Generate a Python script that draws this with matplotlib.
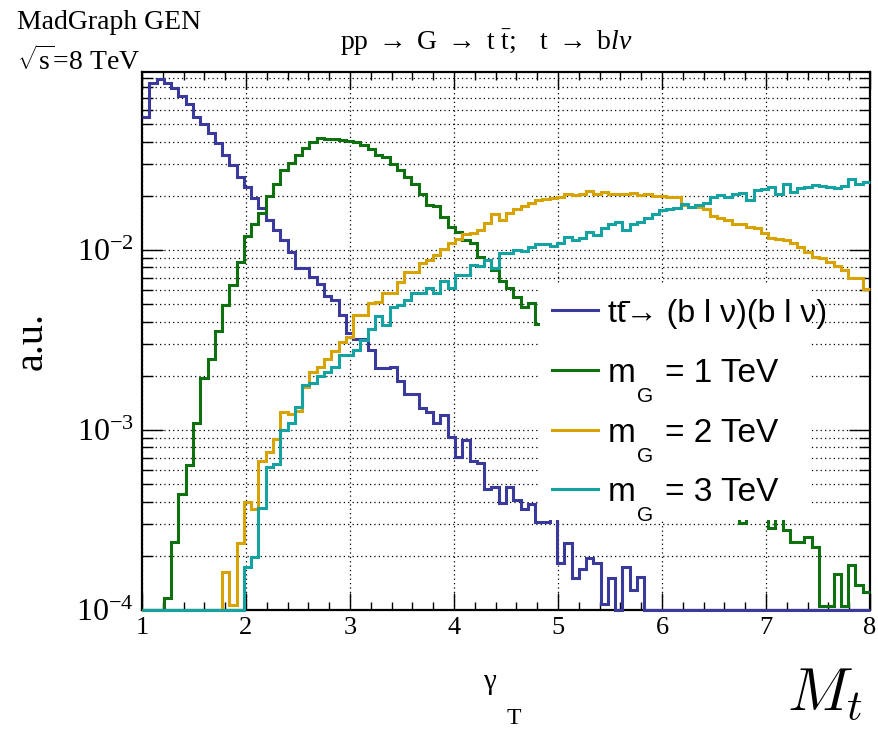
import numpy as np
import matplotlib.pyplot as plt
from matplotlib.patches import Rectangle
from matplotlib.lines import Line2D
from matplotlib.ticker import LogLocator, MultipleLocator, FuncFormatter, NullFormatter

plt.rcParams['font.family'] = ['Liberation Serif', 'DejaVu Serif']
plt.rcParams['mathtext.fontset'] = 'custom'
plt.rcParams['mathtext.rm'] = 'Liberation Serif'
plt.rcParams['mathtext.it'] = 'Liberation Serif:italic'

# 100 bins between 1 and 8 (gamma_T), normalised histograms (a.u.)
bin_lo, bin_hi, n_bins = 1.0, 8.0, 100

ttbar = [0.055, 0.085, 0.089, 0.085, 0.079, 0.0718, 0.0647, 0.055, 0.050, 0.0449,
         0.0395, 0.0337, 0.0297, 0.0253, 0.0223, 0.0194, 0.0171, 0.0147, 0.0129, 0.0114,
         0.0098, 0.0079, 0.0079, 0.0071, 0.00647, 0.00555, 0.0053, 0.00435, 0.00344, 0.00319,
         0.00319, 0.00278, 0.0022, 0.0022, 0.00225, 0.00186, 0.00158, 0.00158, 0.00132, 0.00126,
         0.00109, 0.00121, 0.00092, 0.00071, 0.00088, 0.000676, 0.000653, 0.000468, 0.000484, 0.000394,
         0.000484, 0.000408, 0.000363, 0.000388, 0.000309, 0.000309, 0.00036, 0.000182, 0.000237, 0.00015,
         0.00017, 0.000194, 0.000182, 0.000108, 0.00015, 0, 0.000174, 0.000129, 0.000152, 0,
         0, 0, 0, 0, 0, 0, 0, 0, 0, 0,
         0, 0, 0, 0, 0, 0, 0, 0, 0, 0,
         0, 0, 0, 0, 0, 0, 0, 0, 0, 0]

mG_1TeV = [0, 0, 0, 0.000116, 0.00024, 0.00044, 0.00064, 0.0011, 0.00194, 0.00247,
           0.00355, 0.00495, 0.0064, 0.0086, 0.012, 0.0139, 0.0161, 0.020, 0.0234, 0.0278,
           0.0305, 0.0337, 0.0367, 0.040, 0.042, 0.0413, 0.0413, 0.041, 0.0405, 0.040,
           0.0383, 0.0362, 0.0337, 0.0327, 0.0301, 0.0278, 0.0253, 0.0234, 0.0206, 0.0178,
           0.0175, 0.0153, 0.0135, 0.0126, 0.0113, 0.0109, 0.0092, 0.0088, 0.00774, 0.00676,
           0.00613, 0.0055, 0.00484, 0.00506, 0.0039, 0.0037, 0.0034, 0.0030, 0.0028, 0.0025,
           0.0022, 0.0020, 0.0018, 0.0016, 0.0015, 0.0013, 0.0012, 0.0011, 0.00098, 0.00088,
           0.0008, 0.00072, 0.00066, 0.0006, 0.00055, 0.0005, 0.00046, 0.00042, 0.0004, 0.00037,
           0.00035, 0.00034, 0.000303, 0.00034, 0.00035, 0.00033, 0.000284, 0.00033, 0.000278, 0.00024,
           0.00024, 0.000254, 0.000223, 0.000105, 0.000105, 0.000158, 0.000105, 0.000178, 0.000138, 0.000126]

mG_2TeV = [0, 0, 0, 0, 0, 0, 0, 0, 0, 0,
           0, 0.000163, 0.000106, 0.000235, 0.0004, 0.000363, 0.000676, 0.00075, 0.000887, 0.00126,
           0.00123, 0.00128, 0.00173, 0.00211, 0.00223, 0.00248, 0.00276, 0.0031, 0.0033, 0.00435,
           0.00435, 0.00506, 0.00516, 0.00574, 0.0058, 0.00667, 0.00758, 0.00758, 0.0085, 0.0088,
           0.0094, 0.0101, 0.011, 0.0115, 0.0123, 0.0125, 0.013, 0.0141, 0.0158, 0.0146,
           0.0161, 0.0168, 0.0175, 0.0183, 0.019, 0.0191, 0.0194, 0.0197, 0.0205, 0.0202,
           0.0205, 0.0213, 0.0205, 0.0211, 0.0205, 0.0205, 0.0205, 0.0208, 0.0202, 0.0205,
           0.020, 0.020, 0.0196, 0.0196, 0.0178, 0.0174, 0.0173, 0.0168, 0.0155, 0.015,
           0.0147, 0.0139, 0.0139, 0.0135, 0.0132, 0.0125, 0.0116, 0.0115, 0.0113, 0.0109,
           0.0104, 0.0098, 0.0092, 0.009, 0.0086, 0.0081, 0.0077, 0.007, 0.007, 0.0061]

mG_3TeV = [0, 0, 0, 0, 0, 0, 0, 0, 0, 0,
           0, 0, 0, 0, 0.000174, 0.000196, 0.000367, 0.000625, 0.000647, 0.0010,
           0.00109, 0.00134, 0.00178, 0.00182, 0.0020, 0.00211, 0.00223, 0.00261, 0.00261, 0.0028,
           0.00316, 0.00362, 0.0043, 0.00385, 0.00484, 0.00495, 0.00528, 0.00574, 0.00574, 0.00612,
           0.00574, 0.00676, 0.00612, 0.00727, 0.0073, 0.00826, 0.0082, 0.0088, 0.0079, 0.00967,
           0.00967, 0.010, 0.0099, 0.0104, 0.0108, 0.0108, 0.0105, 0.011, 0.0118, 0.0114,
           0.0116, 0.0126, 0.0121, 0.0132, 0.0139, 0.0144, 0.0129, 0.0139, 0.0144, 0.015,
           0.0158, 0.0167, 0.0168, 0.0171, 0.018, 0.0174, 0.0178, 0.0183, 0.0198, 0.0202,
           0.0198, 0.0205, 0.0208, 0.019, 0.0215, 0.0217, 0.0223, 0.0206, 0.0233, 0.0211,
           0.022, 0.0223, 0.023, 0.0227, 0.0223, 0.022, 0.0227, 0.0247, 0.0234, 0.024]

series = [ttbar, mG_1TeV, mG_2TeV, mG_3TeV]
colors = ['#3a3a9c', '#0e700e', '#d6a300', '#14a2a2']
mass_labels = ['1', '2', '3']

W, H = 879, 731
fig = plt.figure(figsize=(W / 100, H / 100), dpi=100)
ax = fig.add_axes([142 / W, 1 - 610 / H, 728 / W, 538 / H])

ymin, ymax = 1e-4, 0.0975
edges = np.linspace(bin_lo, bin_hi, n_bins + 1)
for vals, col in zip(series, colors):
    v = np.array(vals, dtype=float)
    v = np.where(v > 0, v, ymin)  # empty bins sit on the axis like in ROOT
    ax.stairs(v, edges, baseline=None, color=col, lw=2.2, zorder=2.6, clip_on=False)

ax.set_yscale('log')
ax.set_xlim(bin_lo, bin_hi)
ax.set_ylim(ymin, ymax)

ax.xaxis.set_major_locator(MultipleLocator(1))
ax.xaxis.set_minor_locator(MultipleLocator(0.2))
ax.yaxis.set_major_locator(LogLocator(base=10))
ax.yaxis.set_minor_locator(LogLocator(base=10, subs=np.arange(2, 10)))
ax.yaxis.set_minor_formatter(NullFormatter())
ax.yaxis.set_major_formatter(FuncFormatter(lambda y, p: r'$\mathregular{10^{%d}}$' % round(np.log10(y))))

ax.tick_params(which='both', direction='in', top=True, right=True, width=1, color='k')
ax.tick_params(axis='y', which='major', length=15, labelsize=23, pad=6)
ax.tick_params(axis='y', which='minor', length=8)
ax.tick_params(axis='x', which='major', length=12, labelsize=19, pad=5)
ax.tick_params(axis='x', which='minor', length=6)
for s in ax.spines.values():
    s.set_linewidth(1.6)

dots = (0, (1, 2.5))
ax.grid(True, axis='x', which='major', ls=dots, color='k', lw=0.9)
ax.grid(True, axis='y', which='both', ls=dots, color='k', lw=0.9)

# legend box (white, no border) covering part of the plot
ax.add_patch(Rectangle(((540 - 142) / 728, (610 - 520) / 538), (810 - 540) / 728, (520 - 284) / 538,
                       transform=ax.transAxes, facecolor='white', edgecolor='none', zorder=3))
row_y = [310, 369.5, 429.5, 489]
for yy, col in zip(row_y, colors):
    fig.add_artist(Line2D([552 / W, 598 / W], [1 - yy / H, 1 - yy / H], color=col, lw=2.2))
fig.text(608 / W, 1 - (row_y[0] + 12) / H, 't' + 't\u0304' + '\u2192 (b l \u03bd)(b l \u03bd)',
         family=['Liberation Sans', 'DejaVu Sans'], fontsize=23, va='baseline')
for yy, m in zip(row_y[1:], mass_labels):
    fig.text(608 / W, 1 - (yy + 12) / H, 'm', family='Liberation Sans', fontsize=24, va='baseline')
    fig.text(637 / W, 1 - (yy + 32) / H, 'G', family='Liberation Sans', fontsize=15, va='baseline')
    fig.text(665 / W, 1 - (yy + 12) / H, '= ' + m + ' TeV', family='Liberation Sans', fontsize=24, va='baseline')

fig.text(17 / W, 1 - 29 / H, 'MadGraph GEN', fontsize=20, va='baseline')
fig.text(17 / W, 1 - 70 / H, r'$\sqrt{\mathrm{s}}$=8 TeV', fontsize=20, va='baseline')
fig.text(486 / W, 1 - 50 / H,
         r'$\mathrm{pp\ \rightarrow\ G\ \rightarrow\ t\ \bar{t};\ \ \ t\ \rightarrow\ b}\mathit{l}\nu$',
         fontsize=20, ha='center', va='baseline')

fig.text(32 / W, 1 - 341 / H, 'a.u.', rotation=90, fontsize=29, ha='center', va='center')
fig.text(483 / W, 1 - 689 / H, '\u03b3', fontsize=21, va='baseline')
fig.text(507 / W, 1 - 724 / H, 'T', fontsize=17, va='baseline')
fig.text(787 / W, 1 - 710 / H, r'$M_t$', fontsize=44, math_fontfamily='cm', va='baseline')

plt.savefig('out.png', dpi=100)
